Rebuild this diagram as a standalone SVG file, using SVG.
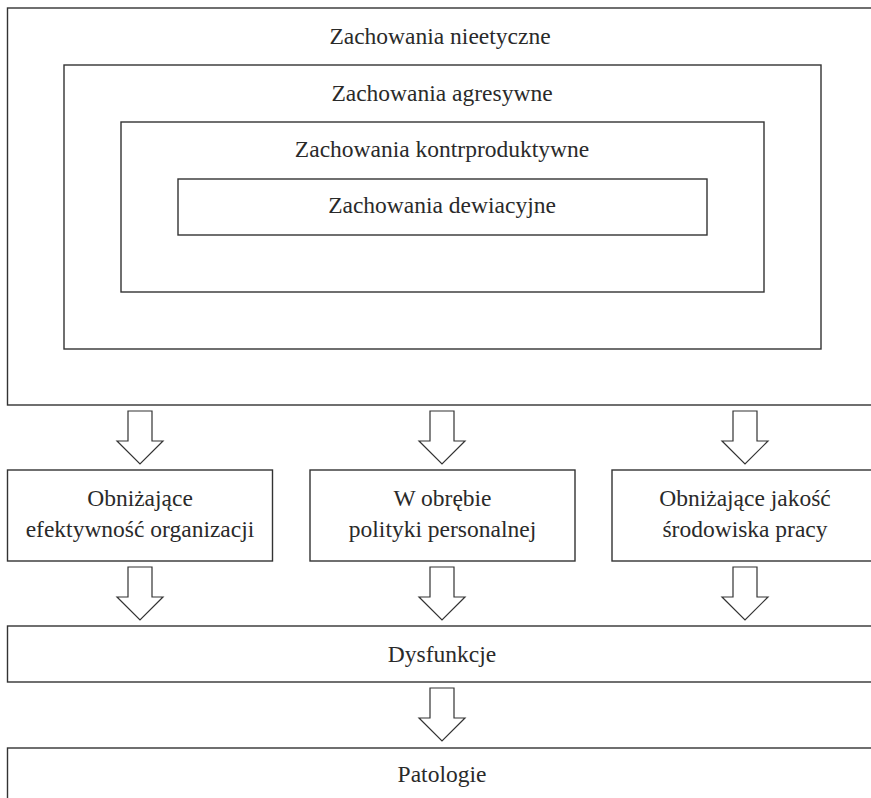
<svg xmlns="http://www.w3.org/2000/svg" width="871" height="798" viewBox="0 0 871 798">
<style>
.box{fill:none;stroke:#333;stroke-width:1.4}
.arr{fill:#fff;stroke:#333;stroke-width:1.2;stroke-linejoin:miter}
text{font-family:"Liberation Serif","DejaVu Serif",serif;font-size:23.5px;fill:#2a2a2a;text-anchor:middle}
</style>
<defs>
<polygon id="arrow" points="-12,0 12,0 12,30 23,30 0,53 -23,30 -12,30"/>
</defs>
<rect width="871" height="798" fill="#fff"/>
<g id="n-nieetyczne"><rect class="box" x="7.5" y="8" width="880" height="397"/><text x="440" y="44">Zachowania nieetyczne</text></g>
<g id="n-agresywne"><rect class="box" x="64" y="65" width="757" height="284"/><text x="442" y="101">Zachowania agresywne</text></g>
<g id="n-kontrproduktywne"><rect class="box" x="121" y="122" width="643" height="170"/><text x="442" y="157">Zachowania kontrproduktywne</text></g>
<g id="n-dewiacyjne"><rect class="box" x="178" y="179" width="529" height="56"/><text x="442" y="213">Zachowania dewiacyjne</text></g>
<g id="n-efektywnosc"><rect class="box" x="7.5" y="470" width="265" height="91"/><text x="140" y="506">Obniżające</text><text x="140" y="537">efektywność organizacji</text></g>
<g id="n-polityka"><rect class="box" x="310" y="470" width="265" height="91"/><text x="442.5" y="506">W obrębie</text><text x="442.5" y="537">polityki personalnej</text></g>
<g id="n-srodowisko"><rect class="box" x="612" y="470" width="266" height="91"/><text x="745" y="506">Obniżające jakość</text><text x="745" y="537">środowiska pracy</text></g>
<g id="n-dysfunkcje"><rect class="box" x="7.5" y="626" width="880" height="56"/><text x="442" y="662">Dysfunkcje</text></g>
<g id="n-patologie"><rect class="box" x="7.5" y="748" width="880" height="70"/><text x="442" y="782">Patologie</text></g>
<g id="connectors">
<use href="#arrow" class="arr" x="140" y="411"/>
<use href="#arrow" class="arr" x="442" y="411"/>
<use href="#arrow" class="arr" x="745" y="411"/>
<use href="#arrow" class="arr" x="140" y="567"/>
<use href="#arrow" class="arr" x="442" y="567"/>
<use href="#arrow" class="arr" x="745" y="567"/>
<use href="#arrow" class="arr" x="442" y="688"/>
</g>
</svg>
